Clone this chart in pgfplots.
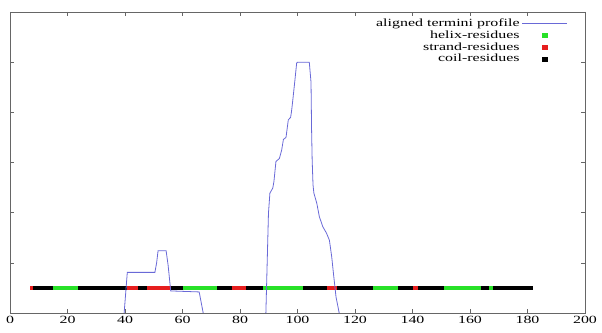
\documentclass[border=0pt]{standalone}
\usepackage{fontspec}
\setmainfont{Liberation Serif}[FakeStretch=1.45]
\usepackage{pgfplots}
\pgfplotsset{compat=1.18}
\definecolor{prof}{RGB}{105,105,215}
\definecolor{hel}{RGB}{40,225,40}
\definecolor{strc}{RGB}{230,30,30}
\begin{document}
\begin{tikzpicture}
\begin{axis}[
  scale only axis, width=575pt, height=301pt,
  xmin=0, xmax=200, ymin=0, ymax=6,
  xtick={0,20,...,200}, ytick={0,1,...,6}, yticklabels={},
  tick align=inside, major tick length=4pt,
  axis line style={black!60}, tick style={black!60, line width=0.6pt},
  every tick label/.append style={font=\fontsize{11}{12}\selectfont, text=black},
  /pgf/number format/assume math mode=true,
  legend style={at={(rel axis cs:0.975,0.99)}, anchor=north east, draw=none, fill=none,
    font=\fontsize{11}{12}\selectfont, row sep=-1.5pt},
  legend cell align=right, legend plot pos=right,
  seg/.style={line width=4pt, forget plot},
]
\addlegendimage{prof, line width=0.8pt, legend image code/.code={\draw[prof, line width=0.8pt] (0pt,0pt) -- (45pt,0pt);}}
\addlegendentry{aligned termini profile}
\addlegendimage{legend image code/.code={\fill[hel] (20pt,-2pt) rectangle (25pt,2pt);}}
\addlegendentry{helix-residues}
\addlegendimage{legend image code/.code={\fill[strc] (20pt,-2pt) rectangle (25pt,2pt);}}
\addlegendentry{strand-residues}
\addlegendimage{legend image code/.code={\fill[black] (20pt,-2pt) rectangle (25pt,2pt);}}
\addlegendentry{coil-residues}
% coil (whole bar)
\addplot[seg, black] coordinates {(7,0.5) (182,0.5)};
% helix
\addplot[seg, hel] coordinates {(14.8,0.5) (23.8,0.5)};
\addplot[seg, hel] coordinates {(60.1,0.5) (71.9,0.5)};
\addplot[seg, hel] coordinates {(88.1,0.5) (102.0,0.5)};
\addplot[seg, hel] coordinates {(126.4,0.5) (135.1,0.5)};
\addplot[seg, hel] coordinates {(151.0,0.5) (163.8,0.5)};
\addplot[seg, hel] coordinates {(166.7,0.5) (168.1,0.5)};
% strand
\addplot[seg, strc] coordinates {(7,0.5) (8,0.5)};
\addplot[seg, strc] coordinates {(40.8,0.5) (44.6,0.5)};
\addplot[seg, strc] coordinates {(47.8,0.5) (55.9,0.5)};
\addplot[seg, strc] coordinates {(77.1,0.5) (82.1,0.5)};
\addplot[seg, strc] coordinates {(110.1,0.5) (113.9,0.5)};
\addplot[seg, strc] coordinates {(140.1,0.5) (142.0,0.5)};
% profile
\addplot[prof, line width=0.8pt, forget plot] coordinates {
 (39.7,0) (40.8,0.81) (50.4,0.81) (51.0,1.0) (51.5,1.24) (54.3,1.24)
 (55.0,0.95) (55.9,0.44) (65.8,0.42) (67.2,0)
};
\addplot[prof, line width=0.8pt, forget plot] coordinates {
 (89.0,0) (89.9,1.99) (90.4,2.39) (91.4,2.49) (91.8,2.62) (92.5,3.02) (93.7,3.08)
 (94.5,3.25) (95.1,3.46) (96.0,3.5) (96.8,3.85) (97.6,3.9) (97.9,4.01) (98.3,4.21)
 (99.1,4.64) (99.7,4.98) (100.0,5.0) (104.1,5.0) (104.7,4.6) (104.9,3.65) (105.1,3.05)
 (105.4,2.55) (105.7,2.39) (106.7,2.19) (107.6,1.92) (108.8,1.72) (110.1,1.59)
 (111.1,1.45) (111.9,1.12) (112.5,0.79) (113.4,0.32) (114.5,0)
};
\end{axis}
\path ([shift={(-10pt,-19pt)}]current axis.south west) rectangle ([shift={(17pt,12pt)}]current axis.north east);
\end{tikzpicture}
\end{document}
